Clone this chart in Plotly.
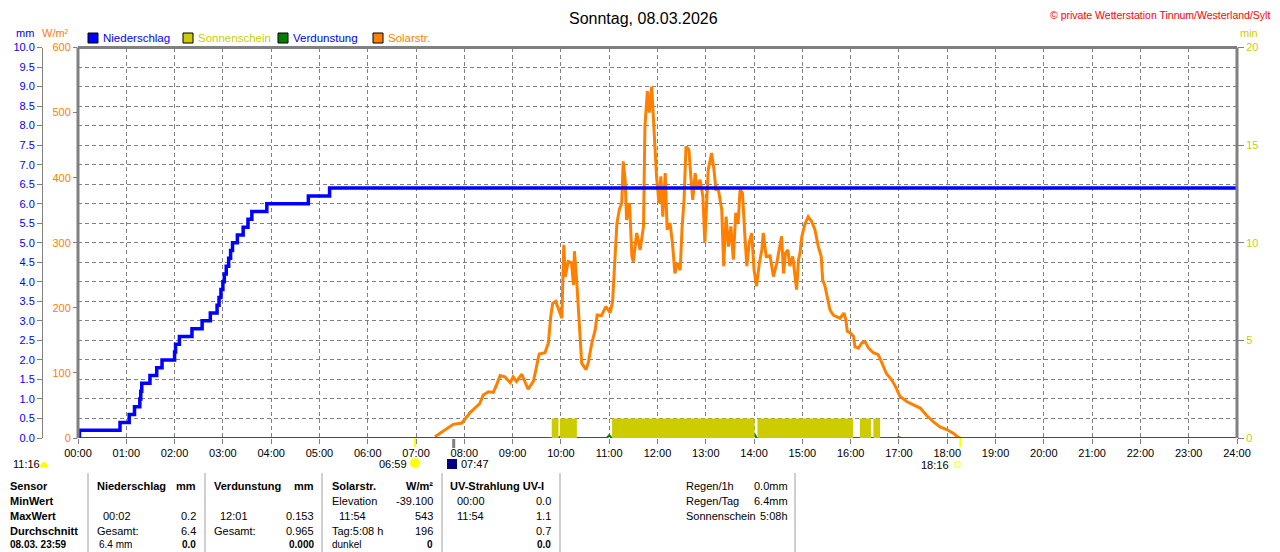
import plotly.graph_objects as go

# the page body adds an 8px margin, so the figure is 8px smaller on each axis
OX, OY = 8, 8
FW, FH = 1272, 544

# hour axis
hours = list(range(25))
hour_labels = [f"{h:02d}:00" for h in hours]

# Niederschlag (cumulative, mm) - step changes
rain_time = [0.00, 0.03, 0.87, 1.06, 1.17, 1.28, 1.30, 1.32, 1.49, 1.63, 1.74, 2.00, 2.02,
             2.10, 2.36, 2.57, 2.74, 2.88, 2.92, 2.96, 3.00, 3.03, 3.07, 3.12, 3.16, 3.20,
             3.30, 3.42, 3.52, 3.60, 3.91, 4.77, 5.21, 24.0]
rain_mm = [0.0, 0.2, 0.4, 0.6, 0.8, 1.0, 1.2, 1.4, 1.6, 1.8, 2.0, 2.2, 2.4,
           2.6, 2.8, 3.0, 3.2, 3.4, 3.6, 3.8, 4.0, 4.2, 4.4, 4.6, 4.8, 5.0,
           5.2, 5.4, 5.6, 5.8, 6.0, 6.2, 6.4, 6.4]

# Solarstrahlung (W/m2)
solar_t = [7.39, 7.55, 7.77, 7.95, 8.12, 8.32, 8.39, 8.50, 8.60, 8.68, 8.74, 8.84, 8.95, 9.01,
           9.08, 9.19, 9.26, 9.32, 9.43, 9.48, 9.55, 9.67, 9.74, 9.79, 9.83, 9.89, 9.95, 10.02,
           10.06, 10.09, 10.15, 10.22, 10.26, 10.28, 10.33, 10.40, 10.43, 10.52, 10.57, 10.64,
           10.71, 10.75, 10.84, 10.93, 11.02, 11.07, 11.12, 11.16, 11.21, 11.26, 11.29, 11.33,
           11.36, 11.42, 11.47, 11.50, 11.57, 11.64, 11.71, 11.74, 11.79, 11.83, 11.88, 11.93,
           11.98, 12.03, 12.07, 12.11, 12.16, 12.20, 12.26, 12.31, 12.36, 12.41, 12.47, 12.51,
           12.55, 12.59, 12.65, 12.69, 12.73, 12.78, 12.82, 12.88, 12.94, 12.98, 13.05, 13.12,
           13.17, 13.21, 13.26, 13.33, 13.37, 13.42, 13.47, 13.52, 13.57, 13.62, 13.67, 13.71,
           13.76, 13.81, 13.85, 13.90, 13.95, 14.00, 14.05, 14.11, 14.16, 14.19, 14.25, 14.33,
           14.40, 14.47, 14.54, 14.57, 14.61, 14.65, 14.70, 14.74, 14.80, 14.85, 14.88, 14.92,
           14.95, 14.99, 15.05, 15.12, 15.19, 15.26, 15.33, 15.39, 15.42, 15.47, 15.52, 15.57,
           15.64, 15.71, 15.78, 15.86, 15.90, 15.93, 16.00, 16.06, 16.09, 16.16, 16.23, 16.30,
           16.37, 16.47, 16.57, 16.62, 16.67, 16.74, 16.85, 16.93, 17.02, 17.16, 17.30, 17.44,
           17.57, 17.71, 17.85, 17.99, 18.13, 18.21, 18.27]
solar_w = [2, 10, 21, 23, 39, 53, 66, 71, 70, 84, 96, 94, 85, 94,
           87, 98, 87, 75, 87, 105, 129, 131, 146, 187, 207, 210, 197, 184,
           297, 248, 271, 269, 235, 287, 238, 156, 115, 105, 117, 146,
           166, 189, 188, 202, 192, 210, 289, 330, 351, 361, 425, 397,
           335, 361, 279, 271, 315, 289, 325, 479, 533, 500, 540, 464,
           402, 361, 402, 340, 407, 320, 330, 299, 253, 269, 258, 325,
           366, 448, 443, 402, 366, 407, 382, 397, 371, 300, 412, 438,
           412, 382, 382, 351, 264, 340, 294, 325, 274, 346, 330, 382,
           376, 310, 264, 300, 315, 258, 233, 269, 289, 315, 279, 280,
           248, 269, 300, 310, 253, 284, 289, 264, 279, 248, 228, 274,
           284, 310, 328, 340, 333, 320, 294, 279, 243, 233, 217, 197,
           189, 187, 184, 192, 182, 164, 161, 156, 140, 138, 146, 148,
           138, 131, 128, 120, 110, 99, 89, 79, 64, 56, 51, 46,
           35, 25, 17, 13, 7, 2, 0]

# Sonnenschein periods (start/end hour) and minutes per period
sun_start = [9.81, 9.98, 11.06, 14.07, 16.19, 16.47]
sun_end = [9.95, 10.33, 14.01, 16.05, 16.42, 16.61]
sun_min = [1, 1, 1, 1, 1, 1]

# Verdunstung (mm) hourly
evap_hour = [9, 10, 11, 12, 13, 14, 15, 16, 17]
evap_mm = [0.01, 0.05, 0.07, 0.153, 0.13, 0.12, 0.09, 0.05, 0.02]

BLUE = "#0000FF"
ORANGE = "#FF8000"
YEL = "#CCCC00"
GREEN = "#008000"
GRAY = "#808080"
FONT = "Liberation Sans, Arial, sans-serif"


def px(x):
    return (x - OX) / FW


def py(y):
    return 1 - (y - OY) / FH


# build evaporation line with small spikes
evap_x, evap_y = [0], [0]
for h, v in zip(evap_hour, evap_mm):
    evap_x += [h - 0.05, h, h + 0.05]
    evap_y += [0, v, 0]
evap_x.append(24)
evap_y.append(0)

fig = go.Figure()
fig.add_trace(go.Bar(
    x=[(s + e) / 2 for s, e in zip(sun_start, sun_end)],
    y=sun_min,
    width=[e - s for s, e in zip(sun_start, sun_end)],
    marker=dict(color=YEL, line=dict(width=0)),
    yaxis="y3"))
fig.add_trace(go.Scatter(x=solar_t, y=solar_w, mode="lines",
                         line=dict(color=ORANGE, width=3), yaxis="y"))
fig.add_trace(go.Scatter(x=evap_x, y=evap_y, mode="lines",
                         line=dict(color=GREEN, width=2), yaxis="y2"))
fig.add_trace(go.Scatter(x=rain_time, y=rain_mm, mode="lines", line_shape="hv",
                         line=dict(color=BLUE, width=3.5), yaxis="y2"))

x0, x1 = px(78), px(1237)
y0, y1 = py(438), py(47.5)

fig.update_layout(
    template="none",
    width=FW, height=FH, autosize=False,
    margin=dict(l=0, r=0, t=0, b=0, pad=0),
    paper_bgcolor="white", plot_bgcolor="white",
    showlegend=False,
    font=dict(family=FONT, size=11, color="black"),
    xaxis=dict(domain=[x0, x1], range=[0, 24], tickvals=hours, ticktext=hour_labels,
               showgrid=True, gridcolor=GRAY, griddash="4px,3px", gridwidth=1,
               ticks="outside", ticklen=5, tickcolor=GRAY, zeroline=False,
               showline=False, automargin=False, tickfont=dict(size=11, color="black")),
    yaxis=dict(domain=[y0, y1], range=[0, 600], tickvals=[0, 100, 200, 300, 400, 500, 600],
               showgrid=False, zeroline=False, ticks="outside", ticklen=4, tickcolor=GRAY,
               automargin=False, tickfont=dict(size=11, color=ORANGE), showline=False),
    yaxis2=dict(overlaying="y", anchor="free", position=px(42), side="left",
                range=[0, 10], dtick=0.5, tickformat=".1f",
                showgrid=True, gridcolor=GRAY, griddash="4px,3px", gridwidth=1,
                zeroline=False, ticks="outside", ticklen=5, tickcolor=GRAY,
                showline=True, linecolor=GRAY, linewidth=1, automargin=False,
                tickfont=dict(size=11, color=BLUE)),
    yaxis3=dict(overlaying="y", anchor="x", side="right", range=[0, 20],
                tickvals=[0, 5, 10, 15, 20], showgrid=False, zeroline=False,
                ticks="outside", ticklen=6, tickcolor=GRAY, automargin=False,
                tickfont=dict(size=11, color=YEL)),
)

shapes = []
# frame (top, left, right)
for xa, xb, ya, yb in [(0, 1, 1, 1), (0, 0, 0, 1), (1, 1, 0, 1)]:
    shapes.append(dict(type="line", xref="x domain", yref="y domain",
                       x0=xa, x1=xb, y0=ya, y1=yb, line=dict(color=GRAY, width=3),
                       layer="above"))
# sunrise / sunset / moon marks on the time axis
shapes.append(dict(type="line", xref="x", yref="paper", x0=6.98, x1=6.98,
                   y0=py(438), y1=py(447), line=dict(color="#FFFF00", width=2)))
shapes.append(dict(type="line", xref="x", yref="paper", x0=18.27, x1=18.27,
                   y0=py(438), y1=py(447), line=dict(color="#FFFF00", width=2)))
shapes.append(dict(type="line", xref="x", yref="paper", x0=7.78, x1=7.78,
                   y0=py(439), y1=py(448), line=dict(color=GRAY, width=3)))
# sun icons
shapes.append(dict(type="circle", xref="paper", yref="paper",
                   x0=px(410), x1=px(420), y0=py(468), y1=py(458),
                   fillcolor="#FFFF00", line=dict(color="#FFFF66", width=1)))
shapes.append(dict(type="path", xref="paper", yref="paper",
                   path=f"M {px(40)},{py(467)} Q {px(44)},{py(457)} {px(48)},{py(467)} Z",
                   fillcolor="#FFFF00", line=dict(color="#FFFF00", width=1)))
shapes.append(dict(type="rect", xref="paper", yref="paper",
                   x0=px(447), x1=px(457), y0=py(469), y1=py(459),
                   fillcolor="#000080", line=dict(width=0)))
shapes.append(dict(type="rect", xref="paper", yref="paper",
                   x0=px(955), x1=px(960), y0=py(467), y1=py(462),
                   fillcolor="white", line=dict(color="#FFFF00", width=1)))
# legend squares
for lx, col in [(88, BLUE), (183, YEL), (278, GREEN), (373, ORANGE)]:
    shapes.append(dict(type="rect", xref="paper", yref="paper",
                       x0=px(lx), x1=px(lx + 10), y0=py(43), y1=py(33),
                       fillcolor=col, line=dict(color="black", width=1)))
# table separators
for vx in [88, 205, 322, 442, 560, 795]:
    shapes.append(dict(type="line", xref="paper", yref="paper",
                       x0=px(vx), x1=px(vx), y0=py(473), y1=0,
                       line=dict(color="#A0A0A0", width=1)))
fig.update_layout(shapes=shapes)

ann = []


def text(x, y, s, color="black", size=11, anchor="left"):
    ann.append(dict(x=px(x), y=py(y), xref="paper", yref="paper", text=s,
                    showarrow=False, xanchor=anchor, yanchor="middle",
                    font=dict(family=FONT, size=size, color=color)))


text(643, 18, "Sonntag, 08.03.2026", size=16, anchor="center")
text(1272, 15, "© private Wetterstation Tinnum/Westerland/Sylt", color="#FF0000",
     size=10.5, anchor="right")
text(14, 33, "mm", color=BLUE)
text(40, 33, "W/m²", color=ORANGE)
text(1238, 33, "min", color=YEL)
text(101, 38, "Niederschlag", color=BLUE, size=11.5)
text(196, 38, "Sonnenschein", color=YEL, size=11.5)
text(291, 38, "Verdunstung", color=BLUE, size=11.5)
text(386, 38, "Solarstr.", color=ORANGE, size=11.5)

# times below the axis
text(11, 464, "11:16")
text(409, 464, "06:59", anchor="right")
text(459, 464, "07:47")
text(951, 465, "18:16", anchor="right")

# data table
rows = [486, 501, 516, 531, 544]
for r, s in zip(rows[:4], ["Sensor", "MinWert", "MaxWert", "Durchschnitt"]):
    text(8, r, f"<b>{s}</b>")
text(8, rows[4], "<b>08.03. 23:59</b>", size=10)
text(95, rows[0], "<b>Niederschlag</b>")
text(198, rows[0], "<b>mm</b>", anchor="right")
text(212, rows[0], "<b>Verdunstung</b>")
text(316, rows[0], "<b>mm</b>", anchor="right")
text(330, rows[0], "<b>Solarstr.</b>")
text(435, rows[0], "<b>W/m²</b>", anchor="right")
text(448, rows[0], "<b>UV-Strahlung UV-I</b>")

text(330, rows[1], "Elevation")
text(435, rows[1], "-39.100", anchor="right")
text(455, rows[1], "00:00")
text(553, rows[1], "0.0", anchor="right")

text(101, rows[2], "00:02")
text(198, rows[2], "0.2", anchor="right")
text(218, rows[2], "12:01")
text(316, rows[2], "0.153", anchor="right")
text(337, rows[2], "11:54")
text(435, rows[2], "543", anchor="right")
text(455, rows[2], "11:54")
text(553, rows[2], "1.1", anchor="right")

text(95, rows[3], "Gesamt:")
text(198, rows[3], "6.4", anchor="right")
text(212, rows[3], "Gesamt:")
text(316, rows[3], "0.965", anchor="right")
text(330, rows[3], "Tag:5:08 h")
text(435, rows[3], "196", anchor="right")
text(553, rows[3], "0.7", anchor="right")

text(97, rows[4], "6.4 mm", size=10)
text(198, rows[4], "<b>0.0</b>", anchor="right", size=10)
text(316, rows[4], "<b>0.000</b>", anchor="right", size=10)
text(330, rows[4], "dunkel", size=10)
text(435, rows[4], "<b>0</b>", anchor="right", size=10)
text(553, rows[4], "<b>0.0</b>", anchor="right", size=10)

text(684, rows[0], "Regen/1h")
text(790, rows[0], "0.0mm", anchor="right")
text(684, rows[1], "Regen/Tag")
text(790, rows[1], "6.4mm", anchor="right")
text(684, rows[2], "Sonnenschein")
text(790, rows[2], "5:08h", anchor="right")

fig.update_layout(annotations=ann)

fig.write_html("out.html")
